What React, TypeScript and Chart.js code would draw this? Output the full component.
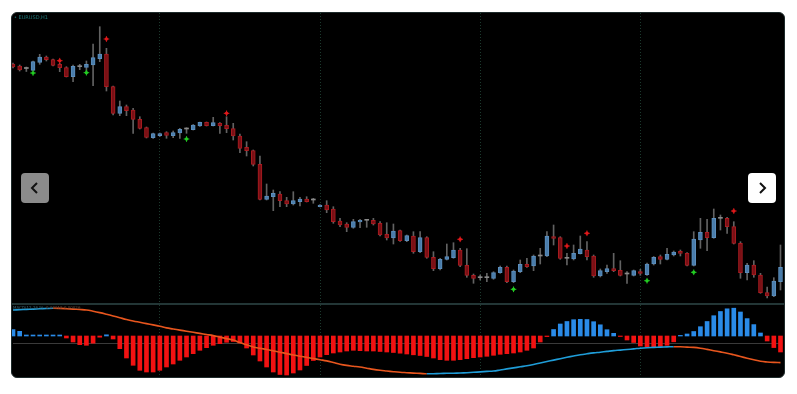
import { useEffect, useRef } from "react";
import { Chart, registerables } from "chart.js";

Chart.register(...registerables);

// ---- EURUSD H1 candles ----
const open = [
  1.1239, 1.1237, 1.12345, 1.12327, 1.12407, 1.1246, 1.12433, 1.12387, 1.12353, 1.12263,
  1.12363, 1.12357, 1.1238, 1.12443, 1.1249, 1.12163, 1.11897, 1.11963, 1.1193, 1.11837,
  1.11753, 1.11653, 1.11673, 1.11703, 1.11673, 1.117, 1.1174, 1.11733, 1.1177, 1.11807,
  1.11773, 1.11797, 1.11777, 1.11743, 1.1167, 1.11557, 1.11523, 1.11387, 1.11037, 1.11063,
  1.1109, 1.11023, 1.1099, 1.11013, 1.1104, 1.1103, 1.10963, 1.1098, 1.1094, 1.1082,
  1.1079, 1.10757, 1.1081, 1.10827, 1.10827, 1.10797, 1.10687, 1.1065, 1.10723, 1.10623,
  1.1067, 1.10513, 1.10653, 1.10457, 1.10343, 1.10437, 1.10453, 1.1053, 1.10377, 1.10277,
  1.10253, 1.10253, 1.10247, 1.10303, 1.10357, 1.10213, 1.10313, 1.10387, 1.1037, 1.1047,
  1.1047, 1.10663, 1.10653, 1.10447, 1.1044, 1.10493, 1.1053, 1.1047, 1.1027, 1.10313,
  1.10343, 1.10327, 1.1029, 1.10277, 1.10313, 1.10283, 1.1039, 1.10463, 1.10437, 1.1048,
  1.10517, 1.10497, 1.10377, 1.1063, 1.10707, 1.10653, 1.10847, 1.10847, 1.10763, 1.10597,
  1.10303, 1.1038, 1.1028, 1.10103, 1.1007, 1.10213,
];
const high = [
  1.124, 1.1238, 1.1236, 1.1242, 1.12487, 1.1247, 1.1244, 1.12397, 1.12363, 1.1238,
  1.12387, 1.1242, 1.1259, 1.12763, 1.12547, 1.1217, 1.1202, 1.1198, 1.11947, 1.11863,
  1.1176, 1.117, 1.117, 1.11713, 1.1172, 1.11747, 1.11753, 1.11785, 1.1181, 1.1181,
  1.11857, 1.11803, 1.11863, 1.11797, 1.1169, 1.11613, 1.1153, 1.1147, 1.1119, 1.1113,
  1.11113, 1.11057, 1.11113, 1.11057, 1.11063, 1.11047, 1.10985, 1.11023, 1.10963, 1.10847,
  1.10803, 1.10837, 1.10837, 1.1083, 1.10847, 1.10813, 1.10803, 1.1079, 1.1073, 1.1068,
  1.10713, 1.10713, 1.10663, 1.10513, 1.10447, 1.1059, 1.10603, 1.10547, 1.10543, 1.1029,
  1.1028, 1.10297, 1.10313, 1.1037, 1.1037, 1.1033, 1.1043, 1.10447, 1.1048, 1.10547,
  1.10713, 1.1078, 1.10663, 1.10497, 1.1058, 1.1067, 1.10613, 1.1048, 1.1034, 1.1038,
  1.10497, 1.10423, 1.10313, 1.1033, 1.10337, 1.104, 1.10465, 1.1048, 1.10547, 1.1052,
  1.1053, 1.10503, 1.10713, 1.10847, 1.10837, 1.1094, 1.1088, 1.10857, 1.10813, 1.10613,
  1.10397, 1.10423, 1.10297, 1.1016, 1.10253, 1.1058,
];
const low = [
  1.1235, 1.1232, 1.12315, 1.1232, 1.12387, 1.1242, 1.1237, 1.12313, 1.1226, 1.12213,
  1.12333, 1.12313, 1.12173, 1.12413, 1.1212, 1.1188, 1.11873, 1.11873, 1.11697, 1.1174,
  1.1165, 1.11647, 1.11665, 1.11647, 1.11653, 1.11647, 1.11697, 1.1173, 1.11765, 1.1177,
  1.1177, 1.11697, 1.11703, 1.1163, 1.11503, 1.1147, 1.1137, 1.1103, 1.1103, 1.10923,
  1.10963, 1.10963, 1.1098, 1.1097, 1.1101, 1.10997, 1.1096, 1.10903, 1.10797, 1.10763,
  1.10713, 1.10747, 1.10753, 1.10757, 1.1078, 1.1067, 1.1063, 1.1059, 1.10615, 1.10613,
  1.10497, 1.10503, 1.10447, 1.10323, 1.1033, 1.1043, 1.10447, 1.10363, 1.10257, 1.10197,
  1.1023, 1.10213, 1.10237, 1.10297, 1.10203, 1.10203, 1.10303, 1.10357, 1.10323, 1.1039,
  1.10463, 1.1058, 1.10437, 1.1038, 1.1043, 1.1049, 1.1043, 1.10257, 1.1026, 1.10297,
  1.10313, 1.1027, 1.10197, 1.1027, 1.10277, 1.10275, 1.1038, 1.1039, 1.1043, 1.1047,
  1.1047, 1.1037, 1.1037, 1.10547, 1.10523, 1.10647, 1.1073, 1.10697, 1.1059, 1.10247,
  1.1023, 1.10257, 1.10097, 1.1005, 1.10063, 1.1013,
];
const close = [
  1.1236, 1.1233, 1.12345, 1.12413, 1.1246, 1.12433, 1.12377, 1.12353, 1.12263, 1.12367,
  1.12363, 1.12387, 1.12453, 1.1249, 1.12163, 1.11897, 1.11963, 1.11923, 1.11837, 1.11747,
  1.11657, 1.11693, 1.11693, 1.11677, 1.11703, 1.11737, 1.1174, 1.1178, 1.11807, 1.11773,
  1.11803, 1.11773, 1.11743, 1.1167, 1.11547, 1.11523, 1.11387, 1.11037, 1.1107, 1.11097,
  1.11023, 1.1099, 1.11023, 1.1104, 1.11013, 1.1103, 1.1098, 1.1093, 1.10813, 1.1078,
  1.10757, 1.10813, 1.10827, 1.10827, 1.1079, 1.1068, 1.1065, 1.1072, 1.10623, 1.10673,
  1.10513, 1.10653, 1.10457, 1.10343, 1.10437, 1.10463, 1.1053, 1.10377, 1.10277, 1.10247,
  1.10253, 1.10253, 1.10303, 1.10357, 1.10213, 1.1032, 1.10387, 1.10363, 1.1047, 1.1047,
  1.1067, 1.10647, 1.10447, 1.10447, 1.10497, 1.1054, 1.10463, 1.1027, 1.10323, 1.10343,
  1.10323, 1.10277, 1.1029, 1.10323, 1.10297, 1.1039, 1.10457, 1.10437, 1.10487, 1.1051,
  1.10497, 1.10377, 1.1064, 1.10707, 1.10653, 1.10847, 1.10847, 1.10763, 1.10597, 1.10303,
  1.1038, 1.1028, 1.10103, 1.1007, 1.1022, 1.10357,
];

// signal arrows (bar index + price)
const sellIdx = [7, 14, 32, 67, 83, 86, 108];
const sellPrice = [1.12423, 1.1264, 1.11897, 1.10637, 1.1057, 1.10697, 1.1092];
const buyIdx = [3, 11, 26, 75, 95, 102];
const buyPrice = [1.123, 1.12303, 1.1164, 1.10137, 1.10223, 1.10307];

// ---- MACD-style sub window (scaled, x1e-4) ----
const histogram = [
  0.64, 0.47, 0.1, 0.1, 0.1, 0.1, 0.1, 0.1, -0.2, -0.6,
  -0.87, -0.93, -0.72, -0.12, 0.12, -0.3, -1.27, -2.2, -2.93, -3.43,
  -3.6, -3.6, -3.43, -3.1, -2.8, -2.43, -2.1, -1.77, -1.43, -1.17,
  -0.93, -0.77, -0.63, -0.55, -0.7, -1.2, -1.9, -2.5, -3.1, -3.6,
  -3.85, -3.9, -3.7, -3.4, -2.95, -2.45, -2.1, -1.87, -1.7, -1.6,
  -1.5, -1.43, -1.47, -1.5, -1.5, -1.55, -1.6, -1.65, -1.72, -1.8,
  -1.88, -1.95, -2.05, -2.2, -2.37, -2.43, -2.43, -2.37, -2.27, -2.17,
  -2.1, -2.03, -1.93, -1.83, -1.77, -1.7, -1.6, -1.43, -1.2, -0.6,
  -0.06, 0.65, 1.2, 1.45, 1.63, 1.67, 1.65, 1.43, 1.12, 0.63,
  0.27, -0.05, -0.4, -0.65, -1.0, -1.1, -1.1, -1.05, -0.93, -0.58,
  0.06, 0.2, 0.45, 0.93, 1.45, 2.03, 2.45, 2.72, 2.78, 2.4,
  1.74, 1.14, 0.3, -0.5, -1.16, -1.6,
];
const signal = [
  2.6, 2.63, 2.66, 2.69, 2.72, 2.75, 2.77, 2.76, 2.73, 2.69,
  2.65, 2.6, 2.48, 2.34, 2.18, 2.01, 1.83, 1.65, 1.5, 1.37,
  1.24, 1.11, 0.98, 0.81, 0.7, 0.59, 0.48, 0.37, 0.26, 0.15,
  0.04, -0.11, -0.26, -0.4, -0.66, -0.88, -1.09, -1.23, -1.35, -1.49,
  -1.62, -1.76, -1.9, -2.02, -2.14, -2.25, -2.37, -2.49, -2.65, -2.82,
  -2.94, -3.02, -3.1, -3.22, -3.34, -3.43, -3.5, -3.57, -3.63, -3.67,
  -3.71, -3.74, -3.78, -3.77, -3.75, -3.73, -3.72, -3.7, -3.67, -3.63,
  -3.59, -3.54, -3.5, -3.4, -3.29, -3.19, -3.08, -2.98, -2.85, -2.7,
  -2.55, -2.41, -2.27, -2.13, -2.0, -1.88, -1.78, -1.69, -1.62, -1.54,
  -1.46, -1.41, -1.35, -1.29, -1.22, -1.17, -1.14, -1.11, -1.09, -1.07,
  -1.08, -1.11, -1.14, -1.22, -1.34, -1.47, -1.59, -1.72, -1.88, -2.05,
  -2.22, -2.38, -2.53, -2.6, -2.64, -2.66,
];
const levelLine = -0.75;

// bars that carry a vertical (period separator) grid line
const separatorBars = [22, 46, 70, 94];

const UP_FILL = "#4a7dab";
const UP_EDGE = "#5d8fbd";
const DN_FILL = "#7a1015";
const DN_EDGE = "#aa1c21";
const FLAT = "#8a8a8a";
const WICK = "#626262";

function xScale() {
  return {
    type: "linear" as const,
    min: 0,
    max: open.length - 1,
    offset: false,
    display: true,
    afterBuildTicks: (s: any) => {
      s.ticks = separatorBars.map((v) => ({ value: v }));
    },
    ticks: { display: false },
    grid: {
      display: true,
      offset: false,
      drawTicks: false,
      lineWidth: 1,
      color: "#1c3a2e",
    },
    border: { display: false, dash: [1, 2] },
  };
}

export default function App() {
  const topRef = useRef<HTMLCanvasElement>(null);
  const botRef = useRef<HTMLCanvasElement>(null);

  useEffect(() => {
    const kind = open.map((o, i) => (close[i] > o ? 1 : close[i] < o ? -1 : 0));
    const bodyFill = kind.map((k) => (k > 0 ? UP_FILL : k < 0 ? DN_FILL : FLAT));
    const bodyEdge = kind.map((k) => (k > 0 ? UP_EDGE : k < 0 ? DN_EDGE : FLAT));
    const bodyBw = kind.map((k) => (k === 0 ? 0 : 1));
    const sellData = sellIdx.map((x, k) => ({ x, y: sellPrice[k] }));
    const buyData = buyIdx.map((x, k) => ({ x, y: buyPrice[k] }));

    const common = {
      responsive: false,
      animation: false as const,
      events: [] as any[],
      layout: { autoPadding: false, padding: { left: 1, right: 3.5, top: 0, bottom: 0 } },
      plugins: { legend: { display: false }, tooltip: { enabled: false } },
    };

    const marker = (data: { x: number; y: number }[], color: string) => [
      {
        type: "line",
        data,
        showLine: false,
        pointStyle: "circle",
        pointRadius: 1.7,
        pointBackgroundColor: color,
        pointBorderWidth: 0,
        order: 0,
        clip: false,
      } as any,
      {
        type: "line",
        data,
        showLine: false,
        pointStyle: "cross",
        pointRadius: 2.8,
        pointBorderColor: color,
        pointBorderWidth: 1,
        order: 0,
        clip: false,
      } as any,
    ];

    const top = new Chart(topRef.current!, {
      type: "bar",
      data: {
        datasets: [
          ...marker(sellData, "#e0181a"),
          ...marker(buyData, "#22cc22"),
          {
            type: "bar",
            data: open.map((o, i) => ({ x: i, y: [o, close[i]] })),
            backgroundColor: bodyFill,
            borderColor: bodyEdge,
            borderWidth: bodyBw,
            borderSkipped: false,
            barThickness: 4,
            minBarLength: 1,
            grouped: false,
            order: 1,
            clip: false,
          } as any,
          {
            type: "bar",
            data: low.map((l, i) => ({ x: i, y: [l, high[i]] })),
            backgroundColor: WICK,
            borderWidth: 0,
            barThickness: 1,
            grouped: false,
            order: 2,
            clip: false,
          } as any,
        ],
      },
      options: {
        ...common,
        scales: {
          x: xScale() as any,
          y: { display: false, min: 1.1, max: 1.129 },
        },
      } as any,
    });

    const bot = new Chart(botRef.current!, {
      type: "bar",
      data: {
        datasets: [
          {
            type: "line",
            data: signal.map((v, i) => ({ x: i, y: v })),
            borderWidth: 1.6,
            pointRadius: 0,
            tension: 0.4,
            borderColor: "#e8561e",
            segment: {
              borderColor: (c: any) => (c.p1.parsed.y >= c.p0.parsed.y ? "#1f9dd8" : "#e8561e"),
            },
            order: 1,
            clip: false,
          } as any,
          {
            type: "bar",
            data: histogram.map((v, i) => ({ x: i, y: v })),
            backgroundColor: histogram.map((v) => (v >= 0 ? "#2a8be8" : "#f21212")),
            borderWidth: 0,
            barThickness: 4,
            grouped: false,
            order: 2,
            clip: false,
          } as any,
        ],
      },
      options: {
        ...common,
        scales: {
          x: xScale() as any,
          y: {
            display: true,
            min: -4.1,
            max: 3.1,
            afterBuildTicks: (s: any) => {
              s.ticks = [{ value: levelLine }];
            },
            ticks: { display: false },
            grid: { drawTicks: false, color: "#3a3a3a", lineWidth: 1 },
            border: { display: false },
          },
        },
      } as any,
    });

    return () => {
      top.destroy();
      bot.destroy();
    };
  }, []);

  const btn = {
    position: "absolute" as const,
    top: 173,
    width: 28,
    height: 30,
    borderRadius: 4,
    display: "flex",
    alignItems: "center",
    justifyContent: "center",
  };

  return (
    <div style={{ position: "fixed", left: 0, top: 0, width: 797, height: 394, background: "#fff", overflow: "hidden" }}>
      <div
        style={{
          position: "absolute",
          left: 11,
          top: 12,
          width: 772,
          height: 364,
          border: "1px solid #1e2b2b",
          borderRadius: 6,
          background: "#000",
          overflow: "hidden",
        }}
      >
        <canvas ref={topRef} width={772} height={290} style={{ position: "absolute", left: 0, top: 0, width: 772, height: 290 }} />
        <div style={{ position: "absolute", left: 0, top: 290, width: 772, height: 2, background: "#233636" }} />
        <canvas ref={botRef} width={772} height={72} style={{ position: "absolute", left: 0, top: 292, width: 772, height: 72 }} />
        <div
          style={{
            position: "absolute",
            left: 2,
            top: 1,
            fontFamily: "DejaVu Sans, sans-serif",
            fontSize: 5,
            lineHeight: "6px",
            color: "#1d7a7a",
            whiteSpace: "nowrap",
          }}
        >
          • EURUSD,H1
        </div>
        <div
          style={{
            position: "absolute",
            left: 1,
            top: 292,
            fontFamily: "DejaVu Sans, sans-serif",
            fontSize: 4,
            lineHeight: "5px",
            color: "#3d6470",
            whiteSpace: "nowrap",
          }}
        >
          MACD(12,26,9) <span style={{ color: "#6a4a3a" }}>-0.00012 0.00026</span>
        </div>
      </div>
      <div style={{ ...btn, left: 21, background: "#8b8b8b" }}>
        <svg width="12" height="14" viewBox="0 0 12 14">
          <polyline points="8,2 3,7 8,12" fill="none" stroke="#111" strokeWidth="2" />
        </svg>
      </div>
      <div style={{ ...btn, left: 748, background: "#ffffff" }}>
        <svg width="12" height="14" viewBox="0 0 12 14">
          <polyline points="4,2 9,7 4,12" fill="none" stroke="#111" strokeWidth="2" />
        </svg>
      </div>
    </div>
  );
}
